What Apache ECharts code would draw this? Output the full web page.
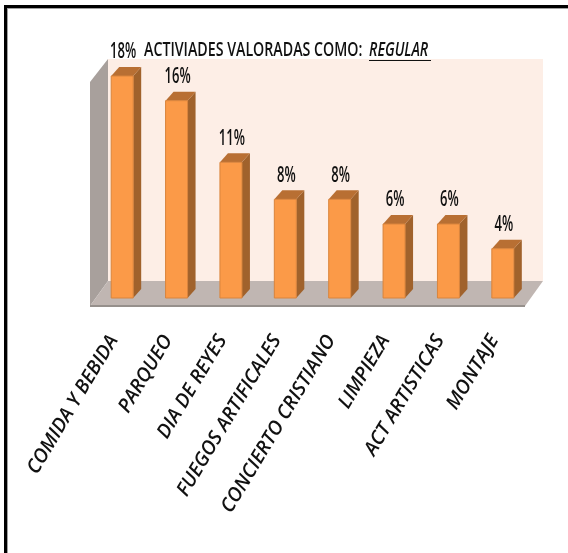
<!DOCTYPE html>
<html><head><meta charset="utf-8"><style>html,body{margin:0;padding:0;background:#fff}#c{width:568px;height:553px}</style>
<script src="https://cdn.jsdelivr.net/npm/echarts@6/dist/echarts.min.js"></script></head><body><div id="c"></div>
<script>
const categories=["COMIDA Y BEBIDA","PARQUEO","DIA DE REYES","FUEGOS ARTIFICALES","CONCIERTO CRISTIANO","LIMPIEZA","ACT ARTISTICAS","MONTAJE"];
const values=[18,16,11,8,8,6,6,4];
const titleMain='ACTIVIADES VALORADAS COMO:';
const titleEm='REGULAR';
const font='"Open Sans",sans-serif';
const chart=echarts.init(document.getElementById('c'),null,{renderer:'canvas'});
function scene(p,api){
  const cs=p.coordSys,l=cs.x,r=cs.x+cs.width,t=cs.y,b=cs.y+cs.height;
  const poly=(pts,fill)=>({type:'polygon',shape:{points:pts},style:{fill:fill}});
  return {type:'group',children:[
    poly([[l+13,t-17],[r+13,t-17],[r+13,b-17],[l+13,b-17]],'#fdeee6'),
    poly([[l-5,t+6],[l+13,t-17],[l+13,b-17],[l-5,b+8]],'#a8a09c'),
    poly([[l-5,b+8],[l+13,b-17],[r+13,b-17],[r-5,b+8]],'#c0b6b2'),
    {type:'rect',shape:{x:l-5,y:b+7,width:cs.width,height:2},style:{fill:'#96908c'}}
  ]};
}
function bar(p,api){
  const x=api.coord([api.value(0),0])[0],y0=api.coord([0,0])[1],y1=api.coord([0,api.value(1)])[1];
  const w=22,dx=8,dy=9,l=x-w/2,r=x+w/2;
  return {type:'group',children:[
    {type:'polygon',shape:{points:[[r,y1],[r+dx,y1-dy],[r+dx,y0-dy],[r,y0]]},style:{fill:'#a0622c'}},
    {type:'polygon',shape:{points:[[l,y1],[l+dx,y1-dy],[r+dx,y1-dy],[r,y1]]},style:{fill:'#b86f33'}},
    {type:'rect',shape:{x:l,y:y1,width:w,height:y0-y1},style:{fill:'#fb9a48',stroke:'#d9843c',lineWidth:1}},
    {type:'text',x:x+1,y:y1-dy-4,scaleX:0.62,style:{x:0,y:0,text:api.value(1)+'%',fill:'#111',font:'600 21px '+font,align:'center',verticalAlign:'bottom'}}
  ]};
}
chart.setOption({
  animation:false,
  graphic:[
    {type:'rect',shape:{x:4,y:5,width:564,height:3},style:{fill:'#000'},z:10},
    {type:'rect',shape:{x:4,y:5,width:3,height:548},style:{fill:'#000'},z:10},
    {type:'rect',shape:{x:7,y:8,width:561,height:1},style:{fill:'#a0a0a0'},z:10},
    {type:'rect',shape:{x:7,y:8,width:1,height:545},style:{fill:'#a0a0a0'},z:10},
    {type:'text',x:144,y:60,scaleX:0.71,z:10,style:{x:0,y:0,text:titleMain,fill:'#111',font:'600 20px '+font,align:'left',verticalAlign:'bottom'}},
    {type:'text',x:369,y:60,scaleX:0.71,z:10,style:{x:0,y:0,text:titleEm,fill:'#111',font:'italic 600 20px '+font,align:'left',verticalAlign:'bottom'}},
    {type:'rect',shape:{x:369,y:60,width:62,height:1},style:{fill:'#111'},z:10}
  ],
  grid:{left:95,width:435,top:76,height:222},
  xAxis:{type:'category',data:categories,axisLine:{show:false},axisTick:{show:false},
    axisLabel:{interval:0,rotate:59,margin:44,verticalAlign:'bottom',fontFamily:font,fontStyle:'italic',fontWeight:600,fontSize:19.5,color:'#111'}},
  yAxis:{type:'value',min:0,max:18,show:false},
  series:[
    {type:'custom',renderItem:scene,data:[[0,0]],silent:true,z:1,clip:false},
    {type:'custom',renderItem:bar,data:values.map((v,i)=>[i,v]),encode:{x:0,y:1},z:2,clip:false}
  ]
});
</script></body></html>
